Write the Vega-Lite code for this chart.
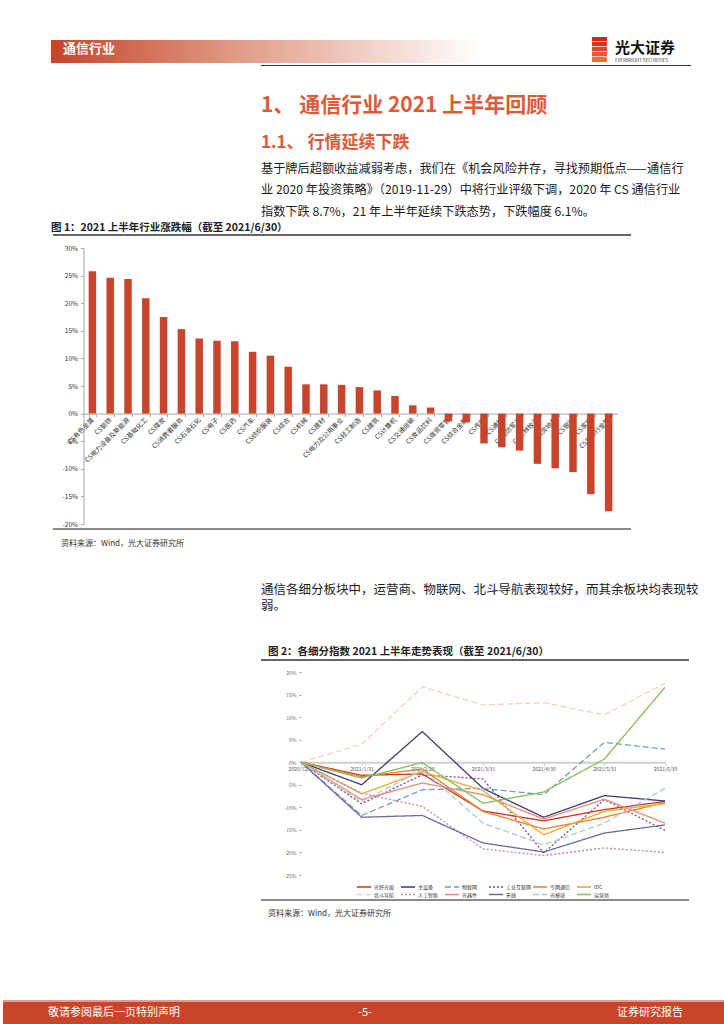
{
  "$schema": "https://vega.github.io/schema/vega-lite/v6.json",
  "background": "white",
  "padding": 0,
  "spacing": 0,
  "bounds": "flush",
  "config": {
    "view": {"stroke": null},
    "font": "Noto Sans CJK SC",
    "title": {"anchor": "start", "offset": 0, "frame": "group"}
  },
  "vconcat": [
    {"width": 724, "height": 40, "data": {"values": []}, "mark": "rect"},
    {
      "width": 724, "height": 23,
      "layer": [
        {"data": {"values": [{}]},
         "mark": {"type": "rect", "fill": {"gradient": "linear", "x1": 0, "y1": 0, "x2": 1, "y2": 0, "stops": [{"offset": 0, "color": "rgba(255,255,255,0)"}, {"offset": 0.0663, "color": "rgba(255,255,255,0)"}, {"offset": 0.0663, "color": "#c6442a"}, {"offset": 0.34, "color": "#e2a08c"}, {"offset": 0.66, "color": "#ffffff"}, {"offset": 0.67, "color": "rgba(255,255,255,0)"}, {"offset": 1, "color": "rgba(255,255,255,0)"}]}},
         "encoding": {}},
        {"data": {"values": [{}]},
         "mark": {"type": "rect", "fill": {"gradient": "linear", "x1": 0, "y1": 0, "x2": 0, "y2": 1, "stops": [{"offset": 0, "color": "#d8221b"}, {"offset": 0.16, "color": "#d8221b"}, {"offset": 0.16, "color": "#f7c8c0"}, {"offset": 0.2, "color": "#f7c8c0"}, {"offset": 0.2, "color": "#dd3020"}, {"offset": 0.36, "color": "#dd3020"}, {"offset": 0.36, "color": "#f7c8c0"}, {"offset": 0.4, "color": "#f7c8c0"}, {"offset": 0.4, "color": "#e44428"}, {"offset": 0.56, "color": "#e44428"}, {"offset": 0.56, "color": "#f7c8c0"}, {"offset": 0.6, "color": "#f7c8c0"}, {"offset": 0.6, "color": "#e95a30"}, {"offset": 0.76, "color": "#e95a30"}, {"offset": 0.76, "color": "#f7c8c0"}, {"offset": 0.8, "color": "#f7c8c0"}, {"offset": 0.8, "color": "#ee6e38"}, {"offset": 1, "color": "#ee6e38"}]}},
         "encoding": {
           "x": {"datum": 0, "scale": {"domain": [0, 1], "range": [589, 604]}, "axis": null},
           "x2": {"datum": 1},
           "y": {"datum": 0, "scale": {"domain": [0, 1], "range": [-3, 22]}, "axis": null},
           "y2": {"datum": 1}
         }}
      ],
      "title": {"text": "通信行业", "color": "white", "fontSize": 13, "fontWeight": "bold", "dx": 60, "offset": -18.5}
    },
    {"width": 724, "height": 2, "data": {"values": []}, "mark": "rect",
     "title": {"text": "光大证券", "subtitle": "EVERBRIGHT SECURITIES", "color": "#111", "fontSize": 15, "fontWeight": "bold", "subtitleFontSize": 4.5, "subtitleColor": "#333", "subtitlePadding": 2, "dx": 612, "offset": 1}},
    {"width": 724, "height": 1, "data": {"values": [{}]}, "mark": {"type": "rect", "fill": {"gradient": "linear", "x1": 0, "y1": 0, "x2": 1, "y2": 0, "stops": [{"offset": 0, "color": "rgba(255,255,255,0)"}, {"offset": 0.3564, "color": "rgba(255,255,255,0)"}, {"offset": 0.3564, "color": "#333333"}, {"offset": 0.9503, "color": "#333333"}, {"offset": 0.9503, "color": "rgba(255,255,255,0)"}, {"offset": 1, "color": "rgba(255,255,255,0)"}]}}, "encoding": {}},
    {"width": 724, "height": 54, "data": {"values": []}, "mark": "rect"},
    {"width": 724, "height": 36, "data": {"values": []}, "mark": "rect",
     "title": {"text": "1、 通信行业 2021 上半年回顾", "dx": 258, "fontSize": 21, "fontWeight": "bold", "color": "#de5a38"}},
    {"width": 724, "height": 66, "data": {"values": []}, "mark": "rect",
     "title": {"text": "1.1、  行情延续下跌", "dx": 258, "fontSize": 17, "fontWeight": "bold", "color": "#de5a38"}},
    {"width": 724, "height": 12, "data": {"values": []}, "mark": "rect",
     "title": {"text": ["基于牌后超额收益减弱考虑，我们在《机会风险并存，寻找预期低点——通信行", "业 2020 年投资策略》（2019-11-29）中将行业评级下调，2020 年 CS 通信行业", "指数下跌 8.7%，21 年上半年延续下跌态势，下跌幅度 6.1%。"], "dx": 258, "fontSize": 12.2, "fontWeight": "normal", "color": "#1a1a1a", "lineHeight": 21.5}},
    {"width": 724, "height": 2, "data": {"values": [{}]}, "mark": {"type": "rect", "fill": {"gradient": "linear", "x1": 0, "y1": 0, "x2": 1, "y2": 0, "stops": [{"offset": 0, "color": "rgba(255,255,255,0)"}, {"offset": 0.0691, "color": "rgba(255,255,255,0)"}, {"offset": 0.0691, "color": "#666666"}, {"offset": 0.8674, "color": "#666666"}, {"offset": 0.8674, "color": "rgba(255,255,255,0)"}, {"offset": 1, "color": "rgba(255,255,255,0)"}]}}, "encoding": {}},
    {"width": 724, "height": 1, "data": {"values": []}, "mark": "rect"},
    {"width": 724, "height": 11, "data": {"values": []}, "mark": "rect",
     "title": {"text": "图 1：2021 上半年行业涨跌幅（截至 2021/6/30）", "dx": 48, "fontSize": 10.5, "fontWeight": "bold", "color": "#222"}},
    {
      "width": 724, "height": 276,
      "data": {"values": [
        {"industry": "CS有色金属", "value": 25.8},
        {"industry": "CS钢铁", "value": 24.6},
        {"industry": "CS电力设备及新能源", "value": 24.4},
        {"industry": "CS基础化工", "value": 20.9},
        {"industry": "CS煤炭", "value": 17.5},
        {"industry": "CS消费者服务", "value": 15.3},
        {"industry": "CS石油石化", "value": 13.6},
        {"industry": "CS电子", "value": 13.2},
        {"industry": "CS医药", "value": 13.1},
        {"industry": "CS汽车", "value": 11.2},
        {"industry": "CS纺织服装", "value": 10.5},
        {"industry": "CS综合", "value": 8.5},
        {"industry": "CS机械", "value": 5.3},
        {"industry": "CS建材", "value": 5.3},
        {"industry": "CS电力及公用事业", "value": 5.2},
        {"industry": "CS轻工制造", "value": 4.8},
        {"industry": "CS建筑", "value": 4.2},
        {"industry": "CS计算机", "value": 3.2},
        {"industry": "CS交通运输", "value": 1.5},
        {"industry": "CS食品饮料", "value": 1.1},
        {"industry": "CS商贸零售", "value": -1.4},
        {"industry": "CS综合金融", "value": -1.6},
        {"industry": "CS传媒", "value": -5.4},
        {"industry": "CS通信", "value": -6.1},
        {"industry": "CS国防军工", "value": -6.7},
        {"industry": "CS农林牧渔", "value": -9.1},
        {"industry": "CS房地产", "value": -9.9},
        {"industry": "CS银行", "value": -10.6},
        {"industry": "CS家电", "value": -14.6},
        {"industry": "CS非银行金融", "value": -17.7}
      ]},
      "mark": {"type": "bar", "color": "#c8442b"},
      "encoding": {
        "x": {"field": "industry", "type": "nominal", "sort": null,
              "scale": {"paddingInner": 0.58, "paddingOuter": 0.29, "range": [80.5, 614.5]},
              "axis": {"title": null, "offset": -110.4, "labelAngle": -45, "labelAlign": "right", "labelBaseline": "middle", "labelFontSize": 6.5, "labelColor": "#333", "labelPadding": 2, "labelOverlap": false, "labelLimit": 0, "domainColor": "#a6a6a6", "tickColor": "#a6a6a6", "tickSize": 3, "tickBand": "extent"}},
        "y": {"field": "value", "type": "quantitative",
              "scale": {"domain": [-20, 30], "nice": false},
              "axis": {"title": null, "offset": -80.5, "values": [-20, -15, -10, -5, 0, 5, 10, 15, 20, 25, 30], "labelExpr": "datum.value + '%'", "labelFontSize": 6.5, "labelColor": "#333", "domainColor": "#a6a6a6", "tickColor": "#a6a6a6", "tickSize": 3, "grid": false, "labelPadding": 3}}
      }
    },
    {"width": 724, "height": 4, "data": {"values": []}, "mark": "rect"},
    {"width": 724, "height": 2, "data": {"values": [{}]}, "mark": {"type": "rect", "fill": {"gradient": "linear", "x1": 0, "y1": 0, "x2": 1, "y2": 0, "stops": [{"offset": 0, "color": "rgba(255,255,255,0)"}, {"offset": 0.0691, "color": "rgba(255,255,255,0)"}, {"offset": 0.0691, "color": "#8a8a8a"}, {"offset": 0.8674, "color": "#8a8a8a"}, {"offset": 0.8674, "color": "rgba(255,255,255,0)"}, {"offset": 1, "color": "rgba(255,255,255,0)"}]}}, "encoding": {}},
    {"width": 724, "height": 22, "data": {"values": []}, "mark": "rect"},
    {"width": 724, "height": 64, "data": {"values": []}, "mark": "rect",
     "title": {"text": "资料来源：Wind，光大证券研究所", "dx": 58, "fontSize": 8, "fontWeight": "normal", "color": "#333"}},
    {"width": 724, "height": 43, "data": {"values": []}, "mark": "rect",
     "title": {"text": ["通信各细分板块中，运营商、物联网、北斗导航表现较好，而其余板块均表现较", "弱。"], "dx": 258, "fontSize": 12.5, "fontWeight": "normal", "color": "#1a1a1a", "lineHeight": 16}},
    {"width": 724, "height": 2, "data": {"values": [{}]}, "mark": {"type": "rect", "fill": {"gradient": "linear", "x1": 0, "y1": 0, "x2": 1, "y2": 0, "stops": [{"offset": 0, "color": "rgba(255,255,255,0)"}, {"offset": 0.3564, "color": "rgba(255,255,255,0)"}, {"offset": 0.3564, "color": "#666666"}, {"offset": 0.9475, "color": "#666666"}, {"offset": 0.9475, "color": "rgba(255,255,255,0)"}, {"offset": 1, "color": "rgba(255,255,255,0)"}]}}, "encoding": {}},
    {"width": 724, "height": 11, "data": {"values": []}, "mark": "rect",
     "title": {"text": "图 2：各细分指数 2021 上半年走势表现（截至 2021/6/30）", "dx": 265, "fontSize": 10.5, "fontWeight": "bold", "color": "#222"}},
    {
      "width": 724, "height": 203,
      "data": {"values": [
        {"series": "光纤光缆", "date": "2020/12/31", "value": 0}, {"series": "光纤光缆", "date": "2021/1/31", "value": -2.9}, {"series": "光纤光缆", "date": "2021/2/28", "value": -2.6}, {"series": "光纤光缆", "date": "2021/3/31", "value": -10.8}, {"series": "光纤光缆", "date": "2021/4/30", "value": -13.0}, {"series": "光纤光缆", "date": "2021/5/31", "value": -10.5}, {"series": "光纤光缆", "date": "2021/6/30", "value": -8.7},
        {"series": "主设备", "date": "2020/12/31", "value": 0}, {"series": "主设备", "date": "2021/1/31", "value": -5.0}, {"series": "主设备", "date": "2021/2/28", "value": 6.8}, {"series": "主设备", "date": "2021/3/31", "value": -5.8}, {"series": "主设备", "date": "2021/4/30", "value": -12.2}, {"series": "主设备", "date": "2021/5/31", "value": -7.4}, {"series": "主设备", "date": "2021/6/30", "value": -8.6},
        {"series": "物联网", "date": "2020/12/31", "value": 0}, {"series": "物联网", "date": "2021/1/31", "value": -11.8}, {"series": "物联网", "date": "2021/2/28", "value": -6.1}, {"series": "物联网", "date": "2021/3/31", "value": -5.8}, {"series": "物联网", "date": "2021/4/30", "value": -7.2}, {"series": "物联网", "date": "2021/5/31", "value": 4.4}, {"series": "物联网", "date": "2021/6/30", "value": 2.9},
        {"series": "工业互联网", "date": "2020/12/31", "value": 0}, {"series": "工业互联网", "date": "2021/1/31", "value": -9.2}, {"series": "工业互联网", "date": "2021/2/28", "value": -2.8}, {"series": "工业互联网", "date": "2021/3/31", "value": -3.7}, {"series": "工业互联网", "date": "2021/4/30", "value": -20.1}, {"series": "工业互联网", "date": "2021/5/31", "value": -8.3}, {"series": "工业互联网", "date": "2021/6/30", "value": -15.1},
        {"series": "专网通信", "date": "2020/12/31", "value": 0}, {"series": "专网通信", "date": "2021/1/31", "value": -3.2}, {"series": "专网通信", "date": "2021/2/28", "value": -1.5}, {"series": "专网通信", "date": "2021/3/31", "value": -10.9}, {"series": "专网通信", "date": "2021/4/30", "value": -14.8}, {"series": "专网通信", "date": "2021/5/31", "value": -12.2}, {"series": "专网通信", "date": "2021/6/30", "value": -8.9},
        {"series": "IDC", "date": "2020/12/31", "value": 0}, {"series": "IDC", "date": "2021/1/31", "value": -7.0}, {"series": "IDC", "date": "2021/2/28", "value": -2.1}, {"series": "IDC", "date": "2021/3/31", "value": -6.3}, {"series": "IDC", "date": "2021/4/30", "value": -16.1}, {"series": "IDC", "date": "2021/5/31", "value": -10.9}, {"series": "IDC", "date": "2021/6/30", "value": -9.2},
        {"series": "北斗导航", "date": "2020/12/31", "value": 0}, {"series": "北斗导航", "date": "2021/1/31", "value": 4.0}, {"series": "北斗导航", "date": "2021/2/28", "value": 16.7}, {"series": "北斗导航", "date": "2021/3/31", "value": 12.7}, {"series": "北斗导航", "date": "2021/4/30", "value": 13.2}, {"series": "北斗导航", "date": "2021/5/31", "value": 10.5}, {"series": "北斗导航", "date": "2021/6/30", "value": 17.5},
        {"series": "人工智能", "date": "2020/12/31", "value": 0}, {"series": "人工智能", "date": "2021/1/31", "value": -6.9}, {"series": "人工智能", "date": "2021/2/28", "value": -9.8}, {"series": "人工智能", "date": "2021/3/31", "value": -19.2}, {"series": "人工智能", "date": "2021/4/30", "value": -20.7}, {"series": "人工智能", "date": "2021/5/31", "value": -19.0}, {"series": "人工智能", "date": "2021/6/30", "value": -20.0},
        {"series": "光器件", "date": "2020/12/31", "value": 0}, {"series": "光器件", "date": "2021/1/31", "value": -8.3}, {"series": "光器件", "date": "2021/2/28", "value": -4.6}, {"series": "光器件", "date": "2021/3/31", "value": -7.2}, {"series": "光器件", "date": "2021/4/30", "value": -12.6}, {"series": "光器件", "date": "2021/5/31", "value": -8.2}, {"series": "光器件", "date": "2021/6/30", "value": -13.5},
        {"series": "天线", "date": "2020/12/31", "value": 0}, {"series": "天线", "date": "2021/1/31", "value": -12.2}, {"series": "天线", "date": "2021/2/28", "value": -11.8}, {"series": "天线", "date": "2021/3/31", "value": -17.9}, {"series": "天线", "date": "2021/4/30", "value": -19.9}, {"series": "天线", "date": "2021/5/31", "value": -15.7}, {"series": "天线", "date": "2021/6/30", "value": -13.9},
        {"series": "光模块", "date": "2020/12/31", "value": 0}, {"series": "光模块", "date": "2021/1/31", "value": -8.7}, {"series": "光模块", "date": "2021/2/28", "value": -1.7}, {"series": "光模块", "date": "2021/3/31", "value": -13.5}, {"series": "光模块", "date": "2021/4/30", "value": -18.3}, {"series": "光模块", "date": "2021/5/31", "value": -13.5}, {"series": "光模块", "date": "2021/6/30", "value": -5.8},
        {"series": "运营商", "date": "2020/12/31", "value": 0}, {"series": "运营商", "date": "2021/1/31", "value": -3.5}, {"series": "运营商", "date": "2021/2/28", "value": -0.1}, {"series": "运营商", "date": "2021/3/31", "value": -9.1}, {"series": "运营商", "date": "2021/4/30", "value": -6.6}, {"series": "运营商", "date": "2021/5/31", "value": 0.7}, {"series": "运营商", "date": "2021/6/30", "value": 16.6}
      ]},
      "mark": {"type": "line", "strokeWidth": 1.3},
      "encoding": {
        "x": {"field": "date", "type": "ordinal",
              "sort": ["2020/12/31", "2021/1/31", "2021/2/28", "2021/3/31", "2021/4/30", "2021/5/31", "2021/6/30"],
              "scale": {"type": "point", "padding": 0, "range": [298, 662]},
              "axis": {"title": null, "offset": -112.8, "labelAngle": 0, "labelFontSize": 5, "labelColor": "#555", "labelPadding": 1, "labelOverlap": false, "domainColor": "#d0d0d0", "domainWidth": 2, "tickColor": "#c8c8c8", "tickSize": 3}},
        "y": {"field": "value", "type": "quantitative",
              "scale": {"domain": [-25, 20], "nice": false},
              "axis": {"title": null, "offset": -298, "values": [-25, -20, -15, -10, -5, 0, 5, 10, 15, 20], "labelExpr": "datum.value + '%'", "labelFontSize": 5, "labelColor": "#666", "domain": false, "tickSize": 2, "tickColor": "#999", "grid": false, "labelPadding": 3}},
        "color": {"field": "series", "type": "nominal",
                  "scale": {"domain": ["光纤光缆", "主设备", "物联网", "工业互联网", "专网通信", "IDC", "北斗导航", "人工智能", "光器件", "天线", "光模块", "运营商"],
                            "range": ["#c9361f", "#3e3b6f", "#6b9dc8", "#7c4e8e", "#ef7d2a", "#e5ac30", "#f8cfc2", "#b888b0", "#ee8a78", "#6f6a9a", "#a8c8e6", "#86bf55"]},
                  "legend": {"title": null, "orient": "none", "legendX": 353, "legendY": 884, "direction": "horizontal", "columns": 6, "symbolType": "stroke", "symbolSize": 196, "symbolStrokeWidth": 1.5, "labelFontSize": 5, "labelColor": "#333", "columnPadding": -5, "rowPadding": 1.6, "clipHeight": 6, "labelOffset": 2, "gridAlign": "all"}},
        "strokeDash": {"field": "series", "type": "nominal",
                  "scale": {"domain": ["光纤光缆", "主设备", "物联网", "工业互联网", "专网通信", "IDC", "北斗导航", "人工智能", "光器件", "天线", "光模块", "运营商"],
                            "range": [[1, 0], [1, 0], [6, 3], [2, 2], [1, 0], [1, 0], [6, 3], [2, 2], [1, 0], [1, 0], [6, 3], [1, 0]]},
                  "legend": {"title": null, "orient": "none", "legendX": 353, "legendY": 884, "direction": "horizontal", "columns": 6, "symbolType": "stroke", "symbolSize": 196, "symbolStrokeWidth": 1.5, "labelFontSize": 5, "labelColor": "#333", "columnPadding": -5, "rowPadding": 1.6, "clipHeight": 6, "labelOffset": 2, "gridAlign": "all"}}
      }
    },
    {"width": 724, "height": 24, "data": {"values": []}, "mark": "rect"},
    {"width": 724, "height": 2, "data": {"values": [{}]}, "mark": {"type": "rect", "fill": {"gradient": "linear", "x1": 0, "y1": 0, "x2": 1, "y2": 0, "stops": [{"offset": 0, "color": "rgba(255,255,255,0)"}, {"offset": 0.3564, "color": "rgba(255,255,255,0)"}, {"offset": 0.3564, "color": "#8a8a8a"}, {"offset": 0.9475, "color": "#8a8a8a"}, {"offset": 0.9475, "color": "rgba(255,255,255,0)"}, {"offset": 1, "color": "rgba(255,255,255,0)"}]}}, "encoding": {}},
    {"width": 724, "height": 21, "data": {"values": []}, "mark": "rect"},
    {"width": 724, "height": 78, "data": {"values": []}, "mark": "rect",
     "title": {"text": "资料来源：Wind，光大证券研究所", "dx": 265, "fontSize": 8, "fontWeight": "normal", "color": "#333"}},
    {"width": 724, "height": 24, "data": {"values": [{}]},
     "mark": {"type": "rect", "fill": {"gradient": "linear", "x1": 0, "y1": 0, "x2": 0, "y2": 1, "stops": [{"offset": 0, "color": "#e79a88"}, {"offset": 0.07, "color": "#e79a88"}, {"offset": 0.07, "color": "#c8442b"}, {"offset": 1, "color": "#c8442b"}]}},
     "encoding": {},
     "title": {"text": "敬请参阅最后一页特别声明", "dx": 45, "offset": -17.5, "fontSize": 11, "fontWeight": "normal", "color": "white"}},
    {"width": 724, "height": 1, "data": {"values": []}, "mark": "rect",
     "title": {"text": "-5-", "anchor": "middle", "offset": 6.5, "fontSize": 11, "fontWeight": "normal", "color": "white"}},
    {"width": 724, "height": 1, "data": {"values": []}, "mark": "rect",
     "title": {"text": "证券研究报告", "anchor": "end", "dx": -44, "offset": 7.5, "fontSize": 11, "fontWeight": "normal", "color": "white"}}
  ]
}
